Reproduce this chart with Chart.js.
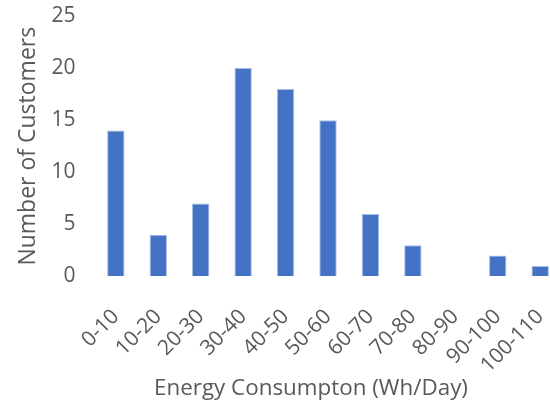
<!DOCTYPE html>
<html>
<head>
<meta charset="utf-8">
<script src="https://cdn.jsdelivr.net/npm/chart.js@4/dist/chart.umd.min.js"></script>
<style>
html,body{margin:0;padding:0;background:#fff;overflow:hidden;width:550px;height:409px;}
#wrap{position:relative;width:586px;height:409px;}
#xt{position:absolute;left:0;width:622px;top:372px;text-align:center;font-family:'Open Sans','Liberation Sans',sans-serif;font-size:22.4px;color:#595959;line-height:30px;white-space:nowrap;}
</style>
</head>
<body>
<div id="wrap"><canvas id="c" width="586" height="409"></canvas><div id="xt">Energy Consumpton (Wh/Day)</div></div>
<script>
const categories = ["0-10","10-20","20-30","30-40","40-50","50-60","60-70","70-80","80-90","90-100","100-110"];
const customers = [14, 4, 7, 20, 18, 15, 6, 3, 0, 2, 1];
const yTicks = [0, 5, 10, 15, 20, 25];

const font = "'Open Sans', 'Liberation Sans', sans-serif";
const textColor = '#595959';

new Chart(document.getElementById('c'), {
  type: 'bar',
  data: {
    labels: categories,
    datasets: [{
      data: customers,
      backgroundColor: '#4472C4',
      borderColor: '#a8bde6',
      borderWidth: 1,
      barPercentage: 0.41,
      categoryPercentage: 1
    }]
  },
  options: {
    responsive: false,
    animation: false,
    devicePixelRatio: 1,
    layout: { padding: { top: 16, right: 0, left: 15, bottom: 3 } },
    plugins: { legend: { display: false }, tooltip: { enabled: false } },
    scales: {
      x: {
        grid: { display: false, drawTicks: false },
        border: { display: false },
        ticks: {
          color: textColor,
          font: { family: font, size: 21 },
          minRotation: 45,
          maxRotation: 45,
          padding: 28
        },
        title: { display: false }
      },
      y: {
        min: 0,
        max: 25,
        afterBuildTicks: (s) => { s.ticks = yTicks.map(v => ({ value: v })); },
        grid: { display: true, color: 'rgba(0,0,0,0)', drawOnChartArea: false, drawTicks: true, tickLength: 16 },
        border: { display: false },
        ticks: {
          color: textColor,
          font: { family: font, size: 21 },
          padding: 3
        },
        title: {
          display: true,
          text: 'Number of Customers',
          color: textColor,
          font: { family: font, size: 23 },
          padding: { top: 0, bottom: 6 }
        }
      }
    }
  }
});
</script>
</body>
</html>
